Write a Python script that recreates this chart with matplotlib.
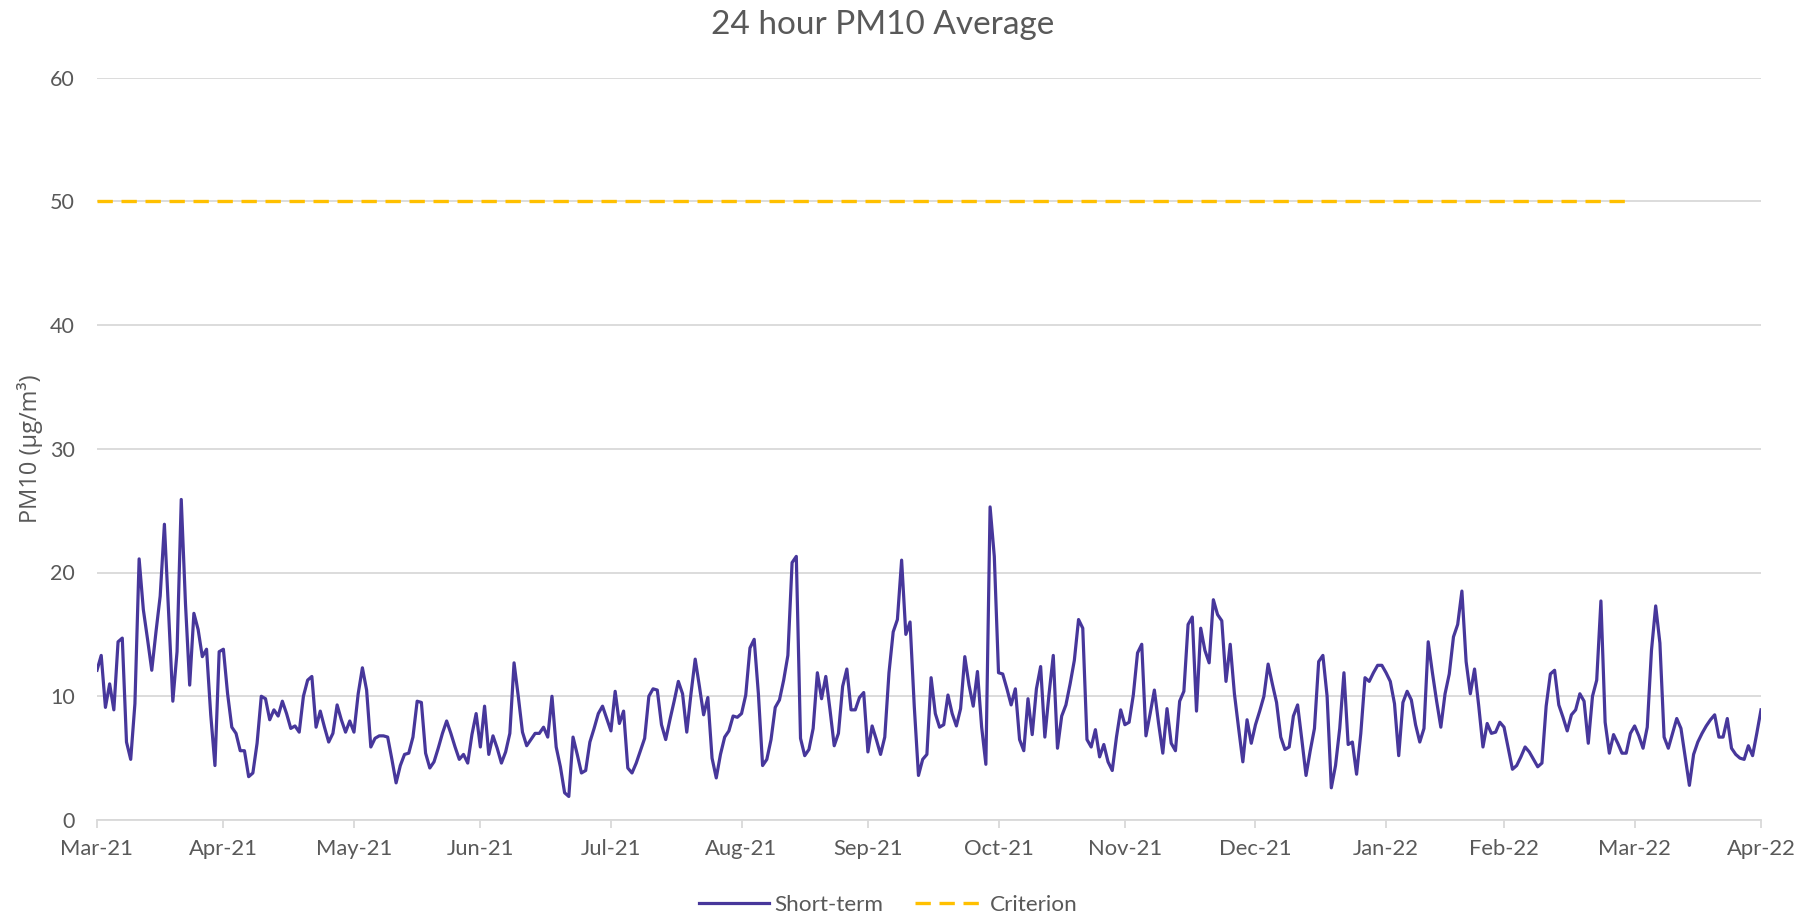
import matplotlib
matplotlib.use("Agg")
import matplotlib.pyplot as plt
import matplotlib.dates as mdates
import numpy as np
import pandas as pd

# ---------------- data ----------------
start_date = "2021-03-31"
title = "24 hour PM10 Average"
ylabel = "PM10 (µg/m³)"
series_names = ["Short-term", "Criterion"]
criterion_value = 50
criterion_days = 365
y_ticks = [0, 10, 20, 30, 40, 50, 60]

pm10_a = [12.1, 13.3, 9.1, 11.0, 8.9, 14.4, 14.7, 6.3, 4.9, 9.4,
          21.1, 17.0, 14.6, 12.1, 15.2, 18.1, 23.9, 16.7, 9.6, 13.6,
          25.9, 17.5, 10.9, 16.7, 15.4, 13.2, 13.8, 8.5, 4.4, 13.6,
          13.8, 10.2]
pm10_b = [7.5, 7.0, 5.6, 5.6, 3.5, 3.8, 6.2, 10.0, 9.8, 8.1, 8.9, 8.4, 9.6, 8.6,
          7.4, 7.6, 7.1, 10.0, 11.3, 11.6, 7.5, 8.8, 7.5, 6.3, 7.0, 9.3, 8.1, 7.1,
          8.0, 7.1, 10.2, 12.3, 10.5, 5.9, 6.6]
pm10_c = [6.8, 6.8, 6.7, 4.9, 3.0, 4.4, 5.3, 5.4, 6.7, 9.6, 9.5, 5.4, 4.2, 4.7,
          5.8, 7.0, 8.0, 7.0, 5.9, 4.9, 5.3, 4.6, 6.9, 8.6, 5.9, 9.2, 5.3, 6.8,
          5.8, 4.6, 5.5, 7.0, 12.7]
pm10_d = [10.0, 7.1, 6.0, 6.5, 7.0, 7.0, 7.5, 6.7, 10.0, 5.9, 4.3, 2.2, 1.9, 6.7,
          5.3, 3.8, 4.0, 6.3, 7.4, 8.6, 9.2, 8.2, 7.2, 10.4, 7.8, 8.8, 4.2, 3.8,
          4.6, 5.6, 6.6, 10.0, 10.6]
pm10_e = [10.5, 7.7, 6.5, 8.1, 9.6, 11.2, 10.2, 7.1, 10.2, 13.0, 10.8, 8.5, 9.9,
          5.0, 3.4, 5.3, 6.7, 7.2, 8.4, 8.3, 8.6, 10.1, 13.9, 14.6, 10.2, 4.4, 4.9,
          6.5, 9.1, 9.7, 11.3, 13.3]
pm10_f = [20.8, 21.3, 6.6, 5.2, 5.7, 7.4, 11.9, 9.8, 11.6, 8.9, 6.0, 7.0, 10.8,
          12.2, 8.9, 8.9, 9.9, 10.3, 5.5, 7.6, 6.5, 5.3, 6.7, 11.9, 15.2, 16.2,
          21.0, 15.0, 16.0, 9.2, 3.6, 4.9, 5.3]
pm10_g = [11.5, 8.6, 7.5, 7.7, 10.1, 8.6, 7.6, 9.0, 13.2, 10.9, 9.2, 12.0, 7.5,
          4.5, 25.3, 21.3, 11.9, 11.8, 10.6, 9.3, 10.6, 6.5, 5.6, 9.8, 6.9, 10.6,
          12.4, 6.7, 10.2, 13.3, 5.8, 8.4, 9.3, 11.0]
pm10_h = [12.9, 16.2, 15.5, 6.5, 5.9, 7.3, 5.1, 6.1, 4.7, 4.0, 6.7, 8.9, 7.7, 7.9,
          10.1, 13.5, 14.2, 6.8, 8.6, 10.5, 7.8, 5.4, 9.0, 6.2, 5.6, 9.6, 10.4,
          15.8, 16.4, 8.8, 15.5, 13.7, 12.7]
pm10_i = [17.8, 16.6, 16.1, 11.2, 14.2, 10.2, 7.4, 4.7, 8.1, 6.2, 7.7, 8.8, 10.0,
          12.6, 11.0, 9.5, 6.7, 5.7, 5.9, 8.4, 9.3, 6.5, 3.6, 5.6, 7.4, 12.8, 13.3,
          10.0, 2.6, 4.4, 7.4, 11.9, 6.1]
pm10_j = [6.3, 3.7, 7.0, 11.5, 11.2, 11.9, 12.5, 12.5, 11.9, 11.2, 9.4, 5.2, 9.5,
          10.4, 9.7, 7.7, 6.3, 7.4, 14.4, 11.9, 9.6, 7.5, 10.2, 11.8, 14.8, 15.8,
          18.5, 12.8, 10.2, 12.2, 9.2, 5.9, 7.8]
pm10_k = [7.0, 7.1, 7.9, 7.5, 5.8, 4.1, 4.4, 5.1, 5.9, 5.5, 4.9, 4.3, 4.6, 9.2,
          11.8, 12.1, 9.3, 8.3, 7.2, 8.5, 8.9, 10.2, 9.6, 6.2, 10.0, 11.3, 17.7,
          7.9, 5.4, 6.9, 6.2, 5.4, 5.4]
pm10_l = [7.0, 7.6, 6.8, 5.8, 7.5, 13.7, 17.3, 14.3, 6.7, 5.8, 7.0, 8.2, 7.4, 5.1,
          2.8, 5.3, 6.3, 7.0, 7.6, 8.1, 8.5, 6.7, 6.7, 8.2, 5.8, 5.3, 5.0, 4.9,
          6.0, 5.2, 7.0, 8.9]

pm10 = np.array(pm10_a + pm10_b + pm10_c + pm10_d + pm10_e + pm10_f +
                pm10_g + pm10_h + pm10_i + pm10_j + pm10_k + pm10_l)
dates = pd.date_range(start_date, periods=len(pm10), freq="D")
crit_dates = dates[:criterion_days]
crit_vals = np.full(criterion_days, criterion_value)

# month-end ticks (Excel-style month steps from the first date)
tick_dates = pd.date_range(start_date, dates[-1], freq="ME")

# ---------------- style ----------------
FONT = "Lato"
TXT = "#595959"
GRID = "#D9D9D9"
LINE = "#47379B"
GOLD = "#FFC000"

W, H = 1815, 914
fig = plt.figure(figsize=(W / 100, H / 100), dpi=100)
L, R, T, B = 97, 1761, 77.5, 820
ax = fig.add_axes([L / W, 1 - B / H, (R - L) / W, (B - T) / H])

ax.plot(dates, pm10, color=LINE, lw=2.3, label=series_names[0], zorder=3,
        solid_joinstyle="round")
ax.plot(crit_dates, crit_vals, color=GOLD, lw=2.4, ls=(0, (4.6, 2.6)),
        label=series_names[1], zorder=3)

ax.set_ylim(0, 60)
ax.set_yticks(y_ticks)
ax.set_xlim(dates[0], tick_dates[-1])
ax.set_xticks(tick_dates)
ax.xaxis.set_major_formatter(mdates.DateFormatter("%b-%y"))

ax.grid(axis="y", color=GRID, lw=1.3, zorder=0)
for s in ["left", "right", "top"]:
    ax.spines[s].set_visible(False)
ax.spines["bottom"].set_color(GRID)
ax.spines["bottom"].set_linewidth(1.3)
ax.tick_params(axis="y", length=0, pad=16, labelsize=15.5, labelcolor=TXT)
ax.tick_params(axis="x", length=6, width=1.3, color=GRID, pad=8,
               labelsize=15.8, labelcolor=TXT)
for lab in ax.get_xticklabels() + ax.get_yticklabels():
    lab.set_fontfamily(FONT)

ax.set_ylabel(ylabel, fontsize=17, color=TXT, family=["Open Sans", "DejaVu Sans"],
              labelpad=5)
fig.text(0.4865, 1 - 25 / H, title, ha="center", va="center",
         fontsize=24, color=TXT, family=FONT)

leg = fig.legend(loc="center", bbox_to_anchor=(0.4895, 1 - 905 / H), ncol=2,
                 frameon=False, prop={"family": FONT, "size": 16.2},
                 handlelength=3.1, handletextpad=0.25, columnspacing=1.4)
for t in leg.get_texts():
    t.set_color(TXT)

fig.savefig("out.png", dpi=100)
